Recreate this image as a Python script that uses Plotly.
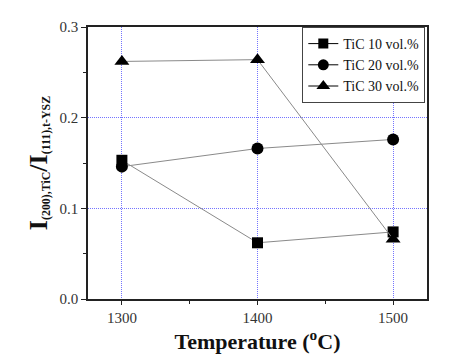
import plotly.graph_objects as go

temps = [1300, 1400, 1500]
tic10 = [0.153, 0.062, 0.074]
tic20 = [0.146, 0.166, 0.176]
tic30 = [0.262, 0.264, 0.066]
names = ["TiC 10 vol.%", "TiC 20 vol.%", "TiC 30 vol.%"]
symbols = ["square", "circle", "triangle-up"]
sizes = [11, 12, 13]

fig = go.Figure()
for vals, nm, sym, sz in zip([tic10, tic20, tic30], names, symbols, sizes):
    fig.add_trace(go.Scatter(
        x=temps, y=vals, name=nm, mode="lines+markers", showlegend=False,
        line=dict(color="#8a8a8a", width=1),
        marker=dict(symbol=sym, size=sz, color="black", line=dict(width=0)),
    ))
# legend entries (black line segments as in the reference legend)
for nm, sym, sz in zip(names, symbols, sizes):
    fig.add_trace(go.Scatter(
        x=[None], y=[None], name=nm, mode="lines+markers",
        line=dict(color="black", width=1),
        marker=dict(symbol=sym, size=sz - 1, color="black", line=dict(width=0)),
    ))

font_fam = "Liberation Serif"
grid_col = "rgba(70,70,255,0.75)"
fig.update_layout(
    width=459, height=358,
    margin=dict(l=88, r=32, t=27, b=59),
    paper_bgcolor="white", plot_bgcolor="white",
    font=dict(family=font_fam, color="#222222", size=15),
    showlegend=True,
    legend=dict(x=0.995, y=1, xanchor="right", yanchor="top",
                bgcolor="white", bordercolor="#444444", borderwidth=1,
                font=dict(size=14, family=font_fam, color="#111111"),
                tracegroupgap=0, itemwidth=30),
    xaxis=dict(
        range=[1275, 1525], tickvals=[1300, 1400, 1500],
        showline=True, linecolor="#222222", linewidth=1.5, mirror=True,
        ticks="outside", ticklen=4, tickcolor="#222222",
        showgrid=True, gridcolor=grid_col, griddash="1px,1px", gridwidth=1,
        zeroline=False, automargin=False,
        tickfont=dict(size=15, family=font_fam, color="#333333"),
        title=dict(text="<b>Temperature (<sup>o</sup>C)</b>", font=dict(size=22, family=font_fam, color="#111111"), standoff=6),
    ),
    yaxis=dict(
        range=[0, 0.3], tickvals=[0.0, 0.1, 0.2, 0.3], ticktext=["0.0", "0.1", "0.2", "0.3"],
        showline=True, linecolor="#222222", linewidth=1.5, mirror=True,
        ticks="outside", ticklen=5, tickcolor="#222222",
        showgrid=True, gridcolor=grid_col, griddash="1px,1px", gridwidth=1,
        zeroline=False, automargin=False,
        tickfont=dict(size=15, family=font_fam, color="#333333"),
        title=dict(text="<b><span style='font-size:26px'>I</span><sub>(200),TiC</sub><span style='font-size:26px'>/I</span><sub>(111),t-YSZ</sub></b>",
                   font=dict(size=17, family=font_fam, color="#111111"), standoff=8),
    ),
)
fig.update_xaxes(minor=dict(tickvals=[1350, 1450], ticks="outside", ticklen=3, tickcolor="#222222", showgrid=False))
fig.update_yaxes(minor=dict(tickvals=[0.05, 0.15, 0.25], ticks="outside", ticklen=3, tickcolor="#222222", showgrid=False))

fig.write_html("out.html", config={"displayModeBar": False},
               post_script="document.body.style.margin='0';document.body.style.padding='0';")
